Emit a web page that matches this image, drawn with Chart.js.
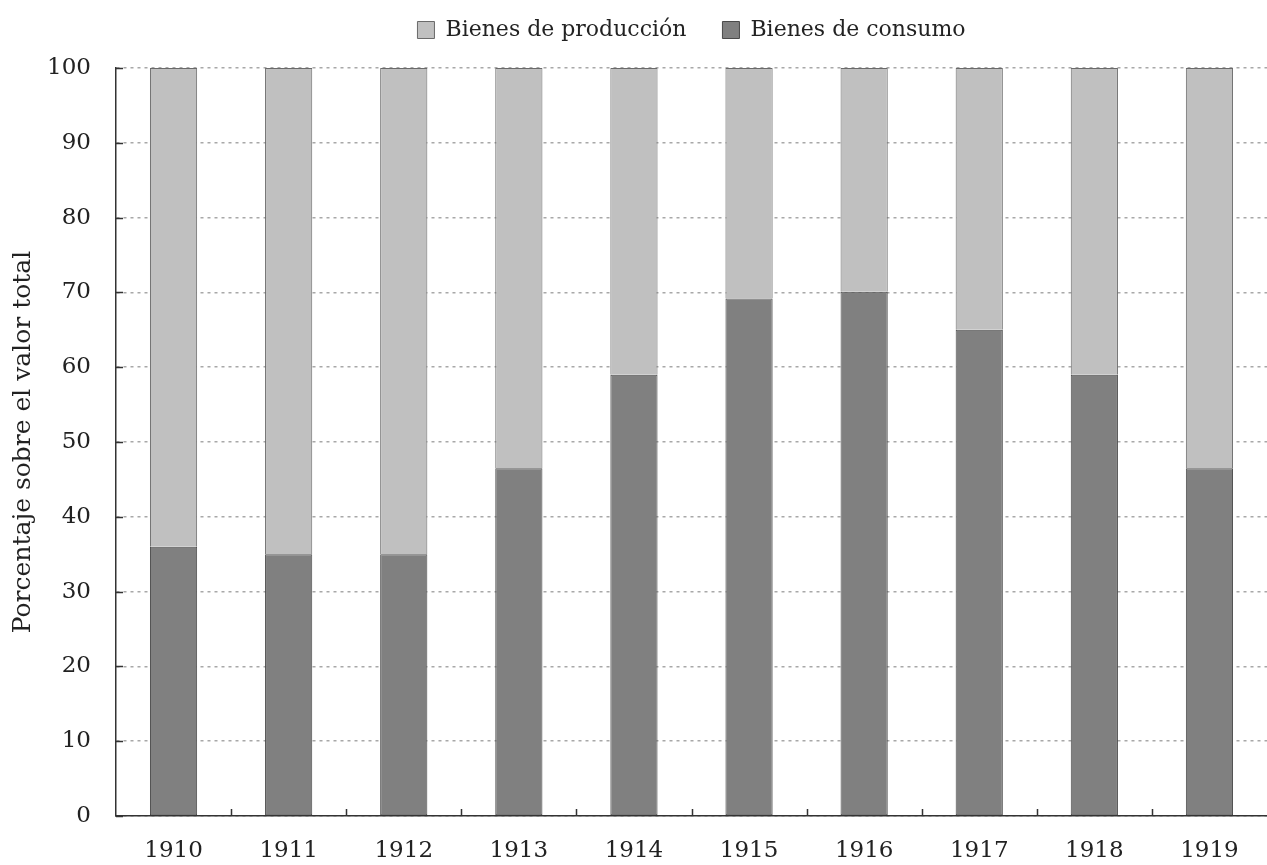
<!DOCTYPE html>
<html>
<head>
<meta charset="utf-8">
<script src="https://cdn.jsdelivr.net/npm/chart.js@4.4.0/dist/chart.umd.min.js"></script>
<style>
  html, body { margin: 0; padding: 0; background: #fff; }
  #wrap { width: 1267px; height: 865px; }
</style>
</head>
<body>
<div id="wrap"><canvas id="barChart"></canvas></div>
<script>
const years = ['1910', '1911', '1912', '1913', '1914', '1915', '1916', '1917', '1918', '1919'];
const consumo = [36, 35, 35, 46.5, 59, 69.2, 70.1, 65, 59, 46.5];
const produccion = [64, 65, 65, 53.5, 41, 30.8, 29.9, 35, 41, 53.5];
const yTicks = [0, 10, 20, 30, 40, 50, 60, 70, 80, 90, 100];

const serif = 'DejaVu Serif';
const legendPad = 36;

const layoutTweaks = {
    id: 'layoutTweaks',
    afterInit(chart) {
        // wide gap between legend items, but keep the legend box short
        const lg = chart.legend;
        const fit = lg.fit;
        lg.fit = function () {
            fit.call(this);
            this.height = 40;
        };
    },
    afterLayout(chart) {
        // center the legend over the plot area, not the whole canvas
        const lg = chart.legend;
        lg.left = chart.chartArea.left;
        lg.right = chart.chartArea.right;
        lg.top = 30 - legendPad - 11;
        lg.bottom = 60;
        lg.height = lg.bottom - lg.top;
    },
    // short inward ticks on both axes
    afterDatasetsDraw(chart) {
        const c = chart.ctx;
        const x = chart.scales.x;
        const y = chart.scales.y;
        c.save();
        c.strokeStyle = '#333';
        c.lineWidth = 1.5;
        c.beginPath();
        yTicks.forEach(function (v) {
            const py = Math.round(y.getPixelForValue(v)) + 0.5;
            c.moveTo(x.left, py);
            c.lineTo(x.left + 7, py);
        });
        for (let i = 1; i < years.length; i++) {
            const px = Math.round((x.getPixelForValue(i - 1) + x.getPixelForValue(i)) / 2) + 0.5;
            c.moveTo(px, y.bottom);
            c.lineTo(px, y.bottom - 7);
        }
        c.stroke();
        c.restore();
    }
};

new Chart(document.getElementById('barChart'), {
    type: 'bar',
    data: {
        labels: years,
        datasets: [{
            label: 'Bienes de consumo',
            data: consumo,
            backgroundColor: '#808080',
            borderColor: '#4a4a4a',
            borderWidth: 1,
            borderSkipped: false,
            categoryPercentage: 1,
            barPercentage: 0.41
        }, {
            label: 'Bienes de producción',
            data: produccion,
            backgroundColor: '#c0c0c0',
            borderColor: '#6a6a6a',
            borderWidth: 1,
            borderSkipped: 'bottom',
            categoryPercentage: 1,
            barPercentage: 0.41
        }]
    },
    options: {
        responsive: true,
        maintainAspectRatio: false,
        animation: false,
        layout: { padding: 0 },
        plugins: {
            legend: {
                reverse: true,
                labels: {
                    font: { family: serif, size: 22 },
                    color: '#222',
                    boxWidth: 17,
                    boxHeight: 17,
                    padding: legendPad
                }
            },
            tooltip: { enabled: false }
        },
        scales: {
            x: {
                stacked: true,
                offset: true,
                grid: { display: false, drawTicks: false },
                border: { color: '#333', width: 1.5 },
                ticks: {
                    font: { family: serif, size: 23 },
                    color: '#222',
                    padding: 21,
                    maxRotation: 0
                },
                afterFit: function (scale) { scale.height = 49; }
            },
            y: {
                stacked: true,
                min: 0,
                max: 100,
                afterBuildTicks: function (scale) {
                    scale.ticks = yTicks.map(function (v) { return { value: v }; });
                },
                grid: {
                    color: '#a8a8a8',
                    lineWidth: 1.5,
                    drawTicks: false
                },
                border: { color: '#333', width: 1.5, dash: [3, 4] },
                ticks: {
                    font: { family: serif, size: 23 },
                    color: '#222',
                    padding: 25
                },
                title: {
                    display: true,
                    text: 'Porcentaje sobre el valor total',
                    font: { family: serif, size: 25 },
                    color: '#222',
                    padding: { top: 8, bottom: 0 }
                },
                afterFit: function (scale) {
                    scale.width = 116;
                    scale.paddingTop = 68;
                }
            }
        }
    },
    plugins: [layoutTweaks]
});
</script>
</body>
</html>
